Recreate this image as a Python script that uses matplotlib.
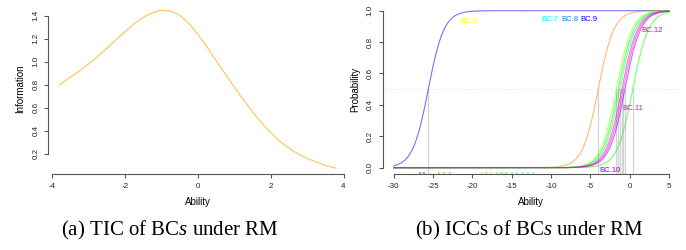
import numpy as np
import matplotlib
matplotlib.use("Agg")
import matplotlib.pyplot as plt

plt.rcParams["font.family"] = ["Liberation Sans", "DejaVu Sans"]
plt.rcParams["mathtext.fontset"] = "custom"
plt.rcParams["mathtext.rm"] = "Liberation Serif"
plt.rcParams["mathtext.it"] = "Liberation Serif:italic"

# --- (a) test information curve ---
tic_ability = [-3.8, -3.5, -3.25, -3.0, -2.75, -2.5, -2.25, -2.0, -1.75, -1.5,
               -1.25, -1.0, -0.75, -0.5, -0.25, 0.0, 0.25, 0.5, 0.75, 1.0,
               1.25, 1.5, 1.75, 2.0, 2.25, 2.5, 2.75, 3.0, 3.25, 3.5, 3.8]
tic_info = [0.80, 0.865, 0.92, 0.98, 1.045, 1.115, 1.19, 1.26, 1.33, 1.385,
            1.425, 1.447, 1.44, 1.405, 1.335, 1.24, 1.13, 1.01, 0.895, 0.78,
            0.67, 0.565, 0.47, 0.385, 0.31, 0.25, 0.20, 0.16, 0.13, 0.10, 0.075]

# --- (b) item difficulties of the BCs (where ICC crosses 0.5) ---
icc_difficulty = [-25.6, -4.0, -1.7, -1.45, -1.25, -1.0, -0.8, -0.6, 0.4]
icc_colors = ["#0000FF", "#FF8000", "#80FF00", "#00FF00", "#00FF80",
              "#FF0080", "#FF00FF", "#8000FF", "#00FF00"]
draw_order = [0, 1, 2, 3, 4, 6, 7, 8, 5]

bc_labels = ["BC.3", "BC.7", "BC.8", "BC.9", "BC.12", "BC.11", "BC.10"]
bc_label_x = [-20.4, -10.2, -7.6, -5.2, 2.9, 0.35, -2.5]
bc_label_y = [0.93, 0.947, 0.947, 0.947, 0.873, 0.38, -0.02]
bc_label_colors = ["#FFFF00", "#00FFFF", "#0080FF", "#0000FF",
                   "#FF0080", "#FF00FF", "#8000FF"]

rug_x = [-26.7, -26.1, -24.2, -23.6, -22.8, -18.8, -18.2, -17.6, -16.9,
         -16.2, -15.7, -15.0, -14.3, -13.6, -12.9, -12.3]
rug_colors = ["#FF0000", "#FF0000", "#FF8000", "#FF8000", "#FF8000",
              "#80FF00", "#80FF00", "#80FF00", "#40FF00", "#00FF00",
              "#00FF00", "#00FF40", "#00FF80", "#00FF80", "#00FFA0", "#00FFC0"]

fig = plt.figure(figsize=(6.86, 2.5), dpi=100)
axA = fig.add_axes([48.3 / 686, 76 / 250, 299 / 686, 170.4 / 250])
axB = fig.add_axes([382.7 / 686, 76 / 250, 297.3 / 686, 169.6 / 250])


def r_style(ax, xb, yb):
    for s in ["top", "right"]:
        ax.spines[s].set_visible(False)
    ax.spines["bottom"].set_bounds(*xb)
    ax.spines["left"].set_bounds(*yb)
    for s in ["bottom", "left"]:
        ax.spines[s].set_color("#555555")
        ax.spines[s].set_linewidth(0.8)
    ax.tick_params(length=3.1, width=0.8, color="#555555", labelsize=5.8,
                   labelcolor="#222222")
    ax.tick_params(axis="x", pad=3.5)
    ax.tick_params(axis="y", pad=3.3, labelrotation=90)
    for t in ax.get_yticklabels():
        t.set_va("center")


# (a)
axA.plot(tic_ability, tic_info, color="#FFC258", lw=0.8)
axA.set_xlim(-4.104, 4.104)
axA.set_ylim(0.025, 1.505)
axA.set_xticks([-4, -2, 0, 2, 4])
axA.set_xticklabels(["-4", "-2", "0", "2", "4"])
axA.set_yticks([0.2, 0.4, 0.6, 0.8, 1.0, 1.2, 1.4])
axA.set_yticklabels(["0.2", "0.4", "0.6", "0.8", "1.0", "1.2", "1.4"])
r_style(axA, (-4, 4), (0.2, 1.4))
axA.set_xlabel("Ability", fontsize=7, labelpad=5)
axA.set_ylabel("Information", fontsize=7, labelpad=5)

# (b)
theta = np.linspace(-30, 5, 700)
axB.axhline(0.5, color="#D8D8D8", lw=0.6, ls=(0, (1, 2)))
for b in icc_difficulty:
    axB.plot([b, b], [-0.04, 0.5], color="#D3D3D3", lw=0.9)
for i in draw_order:
    p = 1 / (1 + np.exp(-(theta - icc_difficulty[i])))
    axB.plot(theta, p, color=icc_colors[i], alpha=0.55, lw=0.8)
axB.scatter(rug_x, [-0.035] * len(rug_x), c=rug_colors, s=2.5, marker="s",
            alpha=0.45, linewidths=0, zorder=3)
for lab, x, y, c in zip(bc_labels, bc_label_x, bc_label_y, bc_label_colors):
    axB.text(x, y, lab, color=c, fontsize=5.6, ha="center", va="center")
axB.set_xlim(-31.4, 6.4)
axB.set_ylim(-0.04, 1.04)
axB.set_xticks([-30, -25, -20, -15, -10, -5, 0, 5])
axB.set_xticklabels(["-30", "-25", "-20", "-15", "-10", "-5", "0", "5"])
axB.set_yticks([0, 0.2, 0.4, 0.6, 0.8, 1.0])
axB.set_yticklabels(["0.0", "0.2", "0.4", "0.6", "0.8", "1.0"])
r_style(axB, (-30, 5), (0, 1))
axB.set_xlabel("Ability", fontsize=7, labelpad=5)
axB.set_ylabel("Probability", fontsize=7, labelpad=5)

# captions
fig.text(170 / 686, 0.078, r"(a) TIC of BC$\mathit{s}$ under RM",
         fontsize=15, family="Liberation Serif", ha="center", va="center")
fig.text(529 / 686, 0.078, r"(b) ICCs of BC$\mathit{s}$ under RM",
         fontsize=15, family="Liberation Serif", ha="center", va="center")

fig.savefig("out.png", dpi=100)
